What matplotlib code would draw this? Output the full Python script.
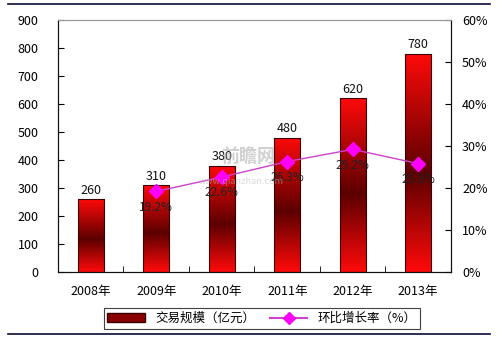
import numpy as np
import matplotlib.pyplot as plt
from matplotlib.lines import Line2D
from matplotlib.colors import LinearSegmentedColormap
from matplotlib.ticker import FuncFormatter

plt.rcParams['font.family'] = ['Noto Sans CJK SC', 'DejaVu Sans']

# ── data ─────────────────────────────────────────────
years = ["2008年", "2009年", "2010年", "2011年", "2012年", "2013年"]
volume = [260, 310, 380, 480, 620, 780]
growth = [None, 19.2, 22.6, 26.3, 29.2, 25.8]
growth_labels = ["", "19.2%", "22.6%", "26.3%", "29.2%", "25.8%"]

fig = plt.figure(figsize=(4.97, 3.44), dpi=100)
ax = fig.add_axes([0.1167, 0.2093, 0.7907, 0.7326])
ax2 = ax.twinx()

x = np.arange(len(years))
bar_w = 0.4

# gradient bars: red at top and bottom, dark maroon in the middle
cmap = LinearSegmentedColormap.from_list(
    "barg", [(0.0, "#ff0a0a"), (0.45, "#5c0000"), (1.0, "#ff0a0a")])
grad = np.linspace(0, 1, 256).reshape(-1, 1)
bars = ax.bar(x, volume, width=bar_w, color="none", edgecolor="#3a0000",
              linewidth=0.8, zorder=3)
for b in bars:
    x0, w, h = b.get_x(), b.get_width(), b.get_height()
    im = ax.imshow(grad, cmap=cmap, aspect="auto", origin="lower",
                   extent=(x0, x0 + w, 0, h), zorder=2)
    im.set_clip_path(b)
for xi, v in zip(x, volume):
    ax.text(xi, v + 8, str(v), ha="center", va="bottom", fontsize=9,
            color="#111111", zorder=5)

ax.set_xlim(-0.5, len(years) - 0.5)
ax.set_ylim(0, 900)
ax.set_yticks(range(0, 901, 100))
ax.set_xticks(x)
ax.set_xticklabels(years, fontsize=9)
ax.set_xticks(np.arange(-0.5, len(years), 1), minor=True)
ax.tick_params(axis="x", which="major", length=0, pad=9)
ax.tick_params(axis="x", which="minor", direction="in", length=4)
ax.tick_params(axis="y", direction="in", length=4, labelsize=9, pad=14)

# line on secondary axis
gx = [xi for xi, g in zip(x, growth) if g is not None]
gy = [g for g in growth if g is not None]
ax2.plot(gx, gy, color="#cc44cc", linewidth=1, marker="D", markersize=7,
         markerfacecolor="#ff00ff", markeredgecolor="#ff00ff", zorder=6)
for xi, g, lab in zip(x, growth, growth_labels):
    if g is None:
        continue
    ax2.text(xi, g - 2.2, lab, ha="center", va="top", fontsize=8.5,
             color="#222222", zorder=7)
ax2.set_ylim(0, 60)
ax2.set_yticks(range(0, 61, 10))
ax2.yaxis.set_major_formatter(FuncFormatter(lambda v, p: f"{int(v)}%"))
ax2.tick_params(axis="y", direction="in", length=4, labelsize=9, pad=8)
ax.set_zorder(ax2.get_zorder() - 1)
ax2.patch.set_visible(False)

for a in (ax, ax2):
    a.spines["top"].set_color("#999999")
    a.spines["left"].set_color("#111111")
    a.spines["right"].set_color("#111111")
    a.spines["bottom"].set_color("#111111")

# watermark
ax2.text(2.4, 27.6, "前瞻网", fontsize=13, color="#aaaaaa", alpha=0.55,
         ha="center", va="center", fontweight="bold", zorder=8)
ax2.text(2.3, 21.6, "www.qianzhan.com", fontsize=6.5, color="#bbbbbb",
         alpha=0.55, ha="center", va="center", zorder=8)

# legend
handles = [
    plt.Rectangle((0, 0), 1, 1, facecolor="#8a0000", edgecolor="#3a0000"),
    Line2D([], [], color="#cc44cc", marker="D", markersize=6,
           markerfacecolor="#ff00ff", markeredgecolor="#ff00ff"),
]
leg = fig.legend(handles, ["交易规模（亿元）", "环比增长率（%）"], ncol=2,
                 loc="center", bbox_to_anchor=(0.527, 0.074), fontsize=9,
                 frameon=True, fancybox=False, edgecolor="#111111",
                 handlelength=3, columnspacing=1.2, borderpad=0.3)
leg.get_frame().set_linewidth(0.8)

# frame lines top and bottom
fig.add_artist(Line2D([0.016, 0.985], [0.988, 0.988], color="#0a0a3a",
                      linewidth=1.2))
fig.add_artist(Line2D([0.016, 0.985], [0.029, 0.029], color="#0a0a3a",
                      linewidth=1.2))

plt.savefig("out.png", dpi=100)
